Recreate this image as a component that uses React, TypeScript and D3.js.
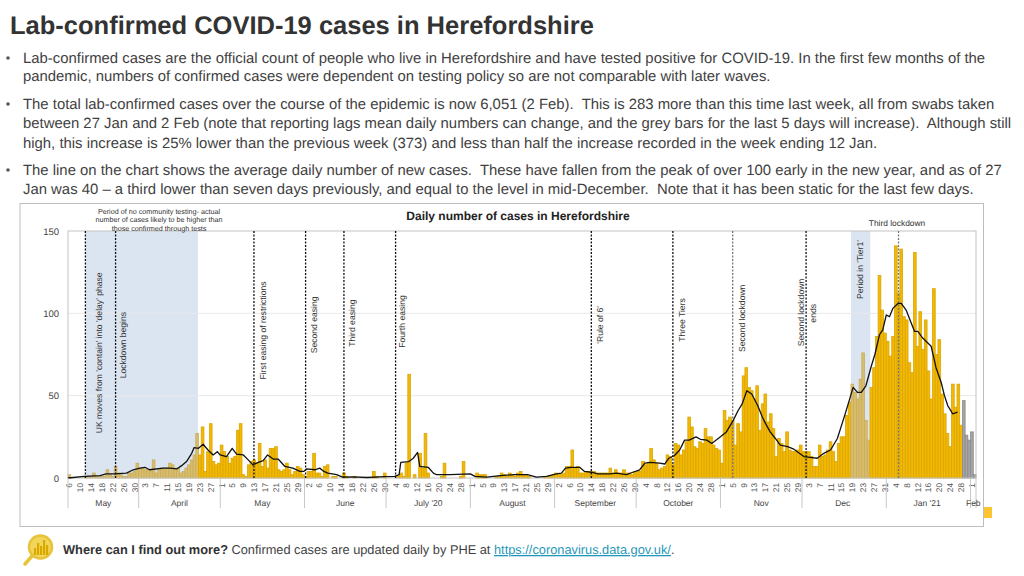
import React from "react";
import * as d3 from "d3";

const march = [2,0,0,0,0,0,1,1,1,3,1,1,1,1,5,2,1,7,3,2,1,1,3,3,4,9];
const april = [6,6,5,5,5,11,3,5,6,6,6,9,8,6,6,3,4,6,8,11,14,27,14,31,4,16,33,10,8,9];
const may = [20,16,13,9,12,13,29,33,2,1,8,10,11,9,21,7,11,6,18,18,19,5,4,5,9,5,2,4,7,6,2];
const june = [1,4,4,15,3,3,1,7,8,0,1,1,0,0,3,1,0,0,1,0,0,0,0,0,0,4,1,0,0,3];
const july = [0,0,0,0,1,3,1,9,63,0,2,0,15,6,27,3,0,0,0,0,1,9,0,0,0,0,0,1,10,0,0];
const august = [0,0,3,2,2,2,0,0,0,1,1,3,2,1,3,2,1,3,4,2,2,1,0,0,0,0,0,1,1,1,2];
const september = [3,2,2,3,7,7,17,6,7,3,3,4,4,4,4,3,3,3,3,3,6,3,5,3,3,5,3,3,2,4];
const october = [4,4,10,8,9,18,11,9,5,6,7,14,13,8,21,20,14,17,22,37,31,19,18,22,21,30,25,25,20,18,17];
const november = [9,41,35,37,35,20,33,28,62,67,55,53,48,56,29,45,51,34,39,30,13,24,21,16,28,17,16,16,17,20];
const december = [16,16,16,13,7,7,20,13,14,17,22,16,10,21,25,25,38,46,57,52,48,60,76,35,23,55,67,86,123,102,88];
const january = [83,74,86,141,112,139,98,96,70,64,137,80,101,78,96,65,48,115,75,84,51,39,27,19,57,43,57,32,47,26,23];
const february = [28,2];
const dailyCases = [...march,...april,...may,...june,...july,...august,...september,...october,...november,...december,...january,...february];

const avgDays = [0,6,11.8,14,17,21.5,24,26.5,28.3,30,35,37.5,40,41.8,43.6,45.5,46.4,48,49.7,51.5,53.4,54.9,56,58.3,60.4,62,64.5,66.3,68,70,71.8,73.4,75.5,77.3,79.8,82.7,85.3,86.8,87.7,90.8,92.6,94.1,95.6,98.8,101,105,110,116.5,120.2,121.8,122.4,125.4,127,128.6,129.4,132.5,134.4,135.6,140.6,148,149.7,154,159,164,169,172.3,176,179.7,181.5,183,185,188.2,190,192.5,194.9,199.3,201.7,205.4,207.8,210.3,212.2,214,217.6,219.5,221,223,225,226.8,228.5,231,232.6,235,236.8,240,242.2,244.7,246.5,248,249.7,251.5,253.7,255.4,256.6,258.3,260.2,262,264.7,267,270.7,273,275.6,278,280.5,283,285.5,287,288.8,290.4,291.8,293.5,295.5,296.8,298.5,299.7,301,302.2,303.4,305.3,306.5,308.3,310.2,311.4,312.6,314.4,317.5,319.3,321.2,322.4,323.6,325.4,327.2];
const avgValues = [0,1,1.5,2.5,2.5,3,5,6,6.5,5,6,6,5.5,7.5,10,15,18.5,18,20.5,17,14,16,14,13,18,14.5,14,11,8,9.5,10.5,14,11.5,11.5,7,6,4,4,5.5,5,6,4,3,2,0.5,0.7,0.3,0.8,1,2,9.5,10,12,15.5,7,6.5,3,2,2,2.5,1,0.5,1.5,2,2,0.5,1,2.5,3,6,6.5,6.5,4,3.5,2.5,2.5,3,2,3.5,5,9,9.5,9,8.5,12,13.5,17,23,23,25,23.5,23,21,25,28,35,41,45,53,51,44,37,33,28,24,20,19,17.5,13,12.5,12,15,17,24,37,45,55,52,52,56,68,75,87,90,99,98,103,106,106,102,94,89,89,85,80,67,58,50,44,39,40];

const tickLabels = ["6","10","14","18","22","26","30","3","7","11","15","19","23","27","1","5","9","13","17","21","25","29","2","6","10","14","18","22","26","30","4","8","12","16","20","24","28","1","5","9","13","17","21","25","29","2","6","10","14","18","22","26","30","4","8","12","16","20","24","28","1","5","9","13","17","21","25","29","3","7","11","15","19","23","27","31","4","8","12","16","20","24","28","1"];
const monthNames = ["May","April","May","June","July '20","August","September","October","Nov","Dec","Jan '21","Feb"];
const monthStarts = [0,26,56,87,117,148,179,209,240,270,301,332];
const monthLabelDays = [13,41,71.5,102,132.5,163.5,194,224.5,255,285,316,333];
const yTicks = [0,50,100,150];

const eventDays = [6.4,17.5,68.4,87.4,101.5,120.5,192.5,222.5,244.5,271.5,305.5];
const eventGrey = [false,false,false,false,false,false,false,false,true,false,true];
const bands = [[6.4,47.8],[288,295.1]];

const events = [
  { t: "UK moves from 'contain' into 'delay' phase", d: 11.4, v: 76 },
  { t: "Lockdown begins", d: 20.2, v: 80.7 },
  { t: "First easing of restrictions", d: 71.7, v: 89.6 },
  { t: "Second easing", d: 90.4, v: 93 },
  { t: "Third easing", d: 104.5, v: 94 },
  { t: "Fourth easing", d: 123, v: 95 },
  { t: "'Rule of 6'", d: 195.8, v: 93 },
  { t: "Three Tiers", d: 226, v: 96 },
  { t: "Second lockdown", d: 247.8, v: 97 },
  { t: "Second lockdown", d: 269.8, v: 100.5 },
  { t: "ends", d: 273.9, v: 100 },
  { t: "Period in 'Tier1'", d: 291.4, v: 126.6 },
];
const noteLines = ["Period of no community testing- actual","number of cases likely to be higher than","those confirmed through tests"];
const iconBars = [7,12,9,15,10];

const para = [
  { y: 63, t: "Lab-confirmed cases are the official count of people who live in Herefordshire and have tested positive for COVID-19. In the first few months of the", b: true },
  { y: 81, t: "pandemic, numbers of confirmed cases were dependent on testing policy so are not comparable with later waves." },
  { y: 109, t: "The total lab-confirmed cases over the course of the epidemic is now 6,051 (2 Feb).  This is 283 more than this time last week, all from swabs taken", b: true },
  { y: 128, t: "between 27 Jan and 2 Feb (note that reporting lags mean daily numbers can change, and the grey bars for the last 5 days will increase).  Although still" },
  { y: 148, t: "high, this increase is 25% lower than the previous week (373) and less than half the increase recorded in the week ending 12 Jan." },
  { y: 175, t: "The line on the chart shows the average daily number of new cases.  These have fallen from the peak of over 100 early in the new year, and as of 27", b: true },
  { y: 194, t: "Jan was 40 – a third lower than seven days previously, and equal to the level in mid-December.  Note that it has been static for the last few days." },
];

const FONT = "'Liberation Sans', Arial, sans-serif";

export default function App() {
  const x = d3.scaleLinear().domain([0, 334]).range([68, 976]);
  const y = d3.scaleLinear().domain([0, 150]).range([478, 231]);
  const line = d3.line<number>().x((d) => x(d)).y((_, i) => y(avgValues[i]));
  const barStyle = (i: number) => {
    if (i >= 329) return { fill: "#a5a5a5", stroke: "#8a8a8a" };
    if (i < 48 || (i >= 288 && i < 295)) return { fill: "#d9bd6a", stroke: "#c9ad5e" };
    return { fill: "#f4b800", stroke: "#d8a608" };
  };
  const icon = d3.scaleLinear().domain([0, 15]).range([0, 15]);
  return (
    <svg width={1024} height={576} style={{ position: "absolute", left: 0, top: 0, background: "#fff" }} fontFamily={FONT} textRendering="geometricPrecision">
      <text x={10} y={34} fontSize={25.5} fontWeight="bold" fill="#333">Lab-confirmed COVID-19 cases in Herefordshire</text>
      {para.map((p, i) => (
        <g key={i}>
          {p.b && <circle cx={8} cy={p.y - 5} r={1.8} fill="#555" />}
          <text x={23} y={p.y} fontSize={14.88} fill="#3f3f3f" xmlSpace="preserve">{p.t}</text>
        </g>
      ))}

      <rect x={20} y={203.5} width={963.5} height={323} fill="#fff" stroke="#bdbdbd" />
      {bands.map((b, i) => (
        <rect key={i} x={x(b[0])} y={231} width={x(b[1]) - x(b[0])} height={247} fill="#dbe5f2" />
      ))}
      {yTicks.slice(1, 3).map((t) => (
        <line key={t} x1={68} x2={976} y1={y(t)} y2={y(t)} stroke="#e9e9e9" />
      ))}
      {dailyCases.map((v, i) => v > 0 && (
        <rect key={i} x={x(i)} y={y(v)} width={x(i + 1) - x(i)} height={y(0) - y(v)} strokeWidth={0.8} {...barStyle(i)} />
      ))}
      <rect x={68} y={231} width={908} height={247} fill="none" stroke="#c4c4c4" />
      {eventDays.map((d, i) => (
        <line key={i} x1={x(d)} x2={x(d)} y1={231} y2={478} stroke={eventGrey[i] ? "#777" : "#111"} strokeWidth={1.3} strokeDasharray="2 1.5" />
      ))}
      <path d={line(avgDays) ?? ""} fill="none" stroke="#111" strokeWidth={1.3} strokeLinejoin="round" />

      {yTicks.map((t) => (
        <text key={t} x={59} y={y(t) + 3.5} textAnchor="end" fontSize={9.5} fill="#444">{t}</text>
      ))}
      {tickLabels.map((t, i) => (
        <text key={i} transform={`translate(${x(i * 4 + 0.5) + 3},483) rotate(-90)`} textAnchor="end" fontSize={8.3} fill="#555">{t}</text>
      ))}
      {monthStarts.map((d) => (
        <line key={d} x1={x(d)} x2={x(d)} y1={478} y2={508} stroke="#c8c8c8" />
      ))}
      <line x1={976} x2={976} y1={478} y2={508} stroke="#c8c8c8" />
      {monthNames.map((m, i) => (
        <text key={i} x={x(monthLabelDays[i])} y={506} textAnchor="middle" fontSize={8.5} fill="#444">{m}</text>
      ))}

      {events.map((e, i) => (
        <text key={i} transform={`translate(${x(e.d)},${y(e.v)}) rotate(-90)`} textAnchor="middle" dy="0.35em" fontSize={8.6} fill="#333">{e.t}</text>
      ))}
      {noteLines.map((t, i) => (
        <text key={i} x={159} y={214 + i * 8.3} textAnchor="middle" fontSize={7.2} fill="#333">{t}</text>
      ))}
      <text x={897} y={226} textAnchor="middle" fontSize={8.4} fill="#333">Third lockdown</text>
      <text x={518} y={220} textAnchor="middle" fontSize={12} fontWeight="bold" fill="#222">Daily number of cases in Herefordshire</text>
      <rect x={984} y={507} width={8} height={11} fill="#fdc431" />

      <line x1={32} y1={556} x2={25} y2={564} stroke="#e6c33a" strokeWidth={3.5} strokeLinecap="round" />
      <circle cx={40.5} cy={547} r={11.5} fill="#f2d65c" stroke="#e6c33a" strokeWidth={2.5} />
      {iconBars.map((b, i) => (
        <rect key={i} x={34 + i * 3} y={555 - icon(b)} width={2.2} height={icon(b)} fill="#d9a900" />
      ))}
      <text x={63} y={554} fontSize={12.8} fill="#3f3f3f" xmlSpace="preserve">
        <tspan fontWeight="bold" fill="#333">Where can I find out more?</tspan>
        <tspan> Confirmed cases are updated daily by PHE at </tspan>
        <tspan fill="#1f97b8" textDecoration="underline">https://coronavirus.data.gov.uk/</tspan>
        <tspan>.</tspan>
      </text>
    </svg>
  );
}
